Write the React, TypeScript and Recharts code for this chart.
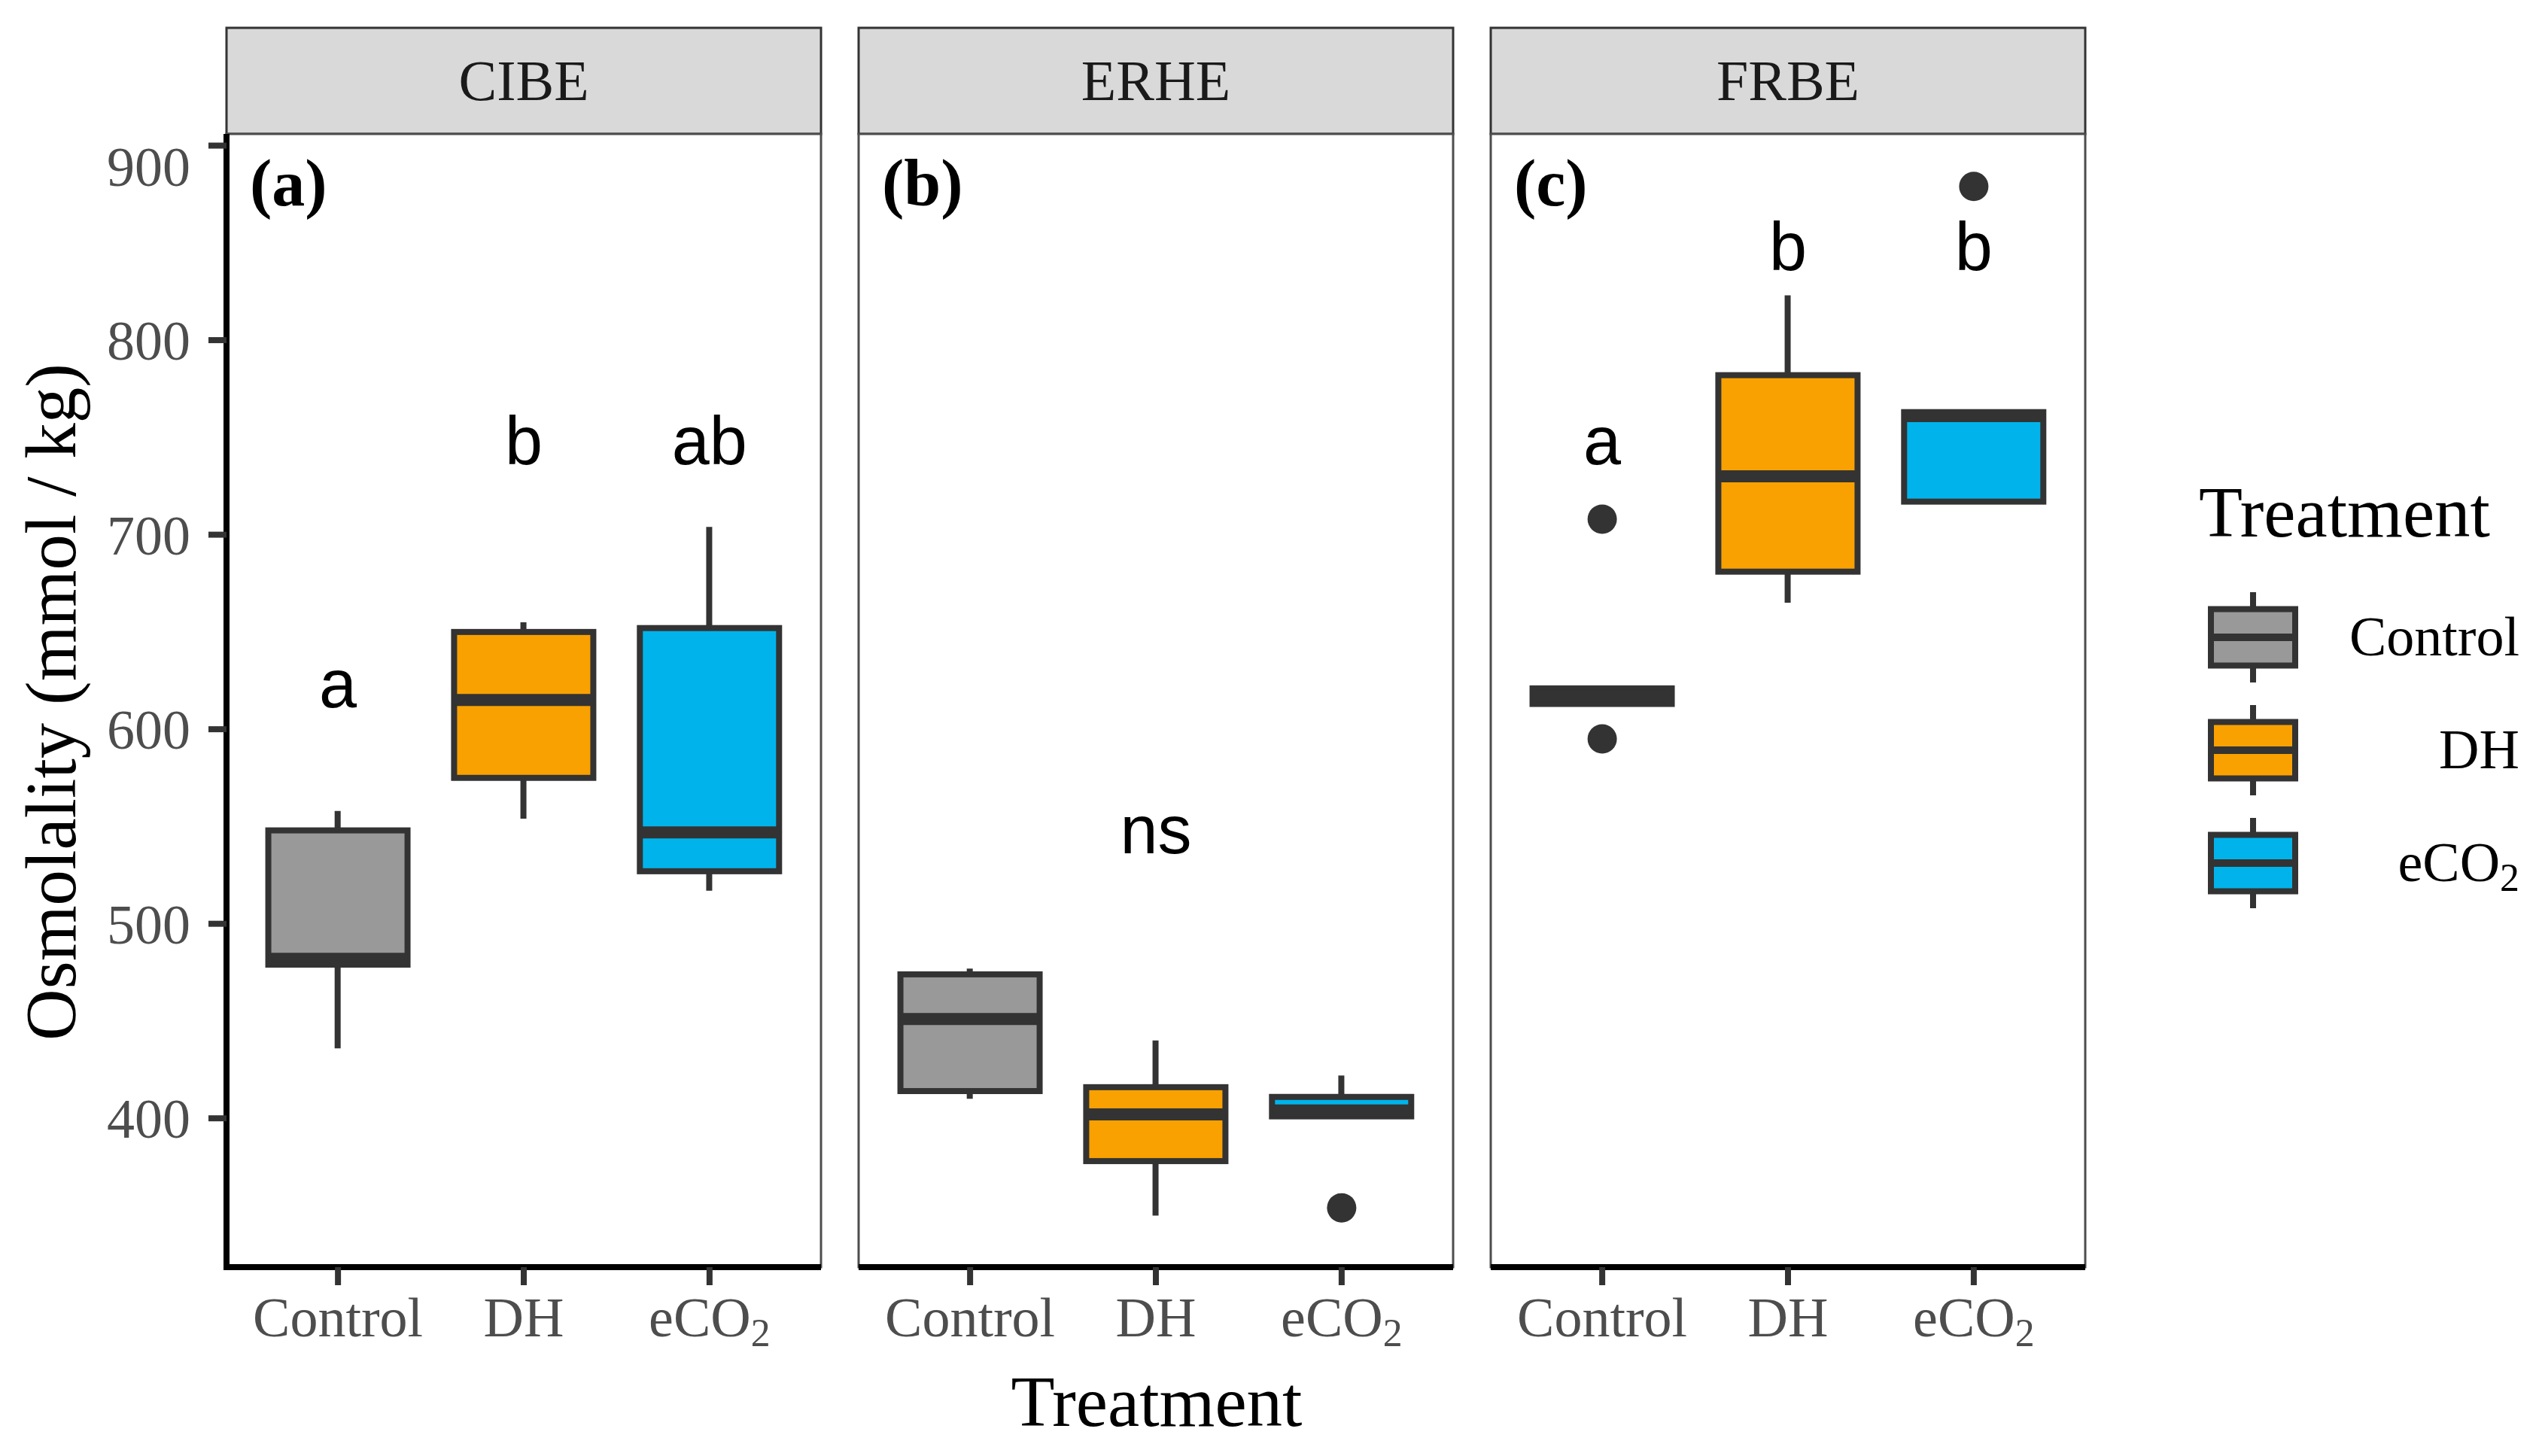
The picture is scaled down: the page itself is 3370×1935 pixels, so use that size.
import React from 'react';
import { ComposedChart, Bar, Scatter, XAxis, YAxis } from 'recharts';

// --- data ---
const TREATMENTS = ['Control', 'DH', 'eCO2'];
const FILLS: Record<string, string> = { Control: '#999999', DH: '#F9A100', eCO2: '#00B4EB' };
const SITES = ['CIBE', 'ERHE', 'FRBE'];
const TAGS = ['(a)', '(b)', '(c)'];
const Y_TICKS = [400, 500, 600, 700, 800, 900];
const Y_DOMAIN = [323.5, 906];

const cibeBoxes = [
  { treatment: 'Control', lo: 436, q1: 479, med: 482, q3: 548, hi: 558 },
  { treatment: 'DH', lo: 554, q1: 575, med: 615, q3: 650, hi: 655 },
  { treatment: 'eCO2', lo: 517, q1: 527, med: 547, q3: 652, hi: 704 },
];
const erheBoxes = [
  { treatment: 'Control', lo: 410, q1: 414, med: 451, q3: 474, hi: 477 },
  { treatment: 'DH', lo: 350, q1: 378, med: 402, q3: 416, hi: 440 },
  { treatment: 'eCO2', lo: 400, q1: 401, med: 404, q3: 411, hi: 422 },
];
const frbeBoxes = [
  { treatment: 'Control', lo: 613, q1: 613, med: 617, q3: 621, hi: 621 },
  { treatment: 'DH', lo: 665, q1: 681, med: 730, q3: 782, hi: 823 },
  { treatment: 'eCO2', lo: 717, q1: 717, med: 761, q3: 763, hi: 763 },
];

const cibeOutliers: { treatment: string; value: number }[] = [];
const erheOutliers = [{ treatment: 'eCO2', value: 354 }];
const frbeOutliers = [
  { treatment: 'Control', value: 708 },
  { treatment: 'Control', value: 595 },
  { treatment: 'eCO2', value: 879 },
];

const cibeLetters = [
  { treatment: 'Control', y: 625, label: 'a' },
  { treatment: 'DH', y: 750, label: 'b' },
  { treatment: 'eCO2', y: 750, label: 'ab' },
];
const erheLetters = [{ treatment: 'DH', y: 550, label: 'ns' }];
const frbeLetters = [
  { treatment: 'Control', y: 750, label: 'a' },
  { treatment: 'DH', y: 850, label: 'b' },
  { treatment: 'eCO2', y: 850, label: 'b' },
];

// --- layout ---
const PANEL_LEFT = [301, 1141, 1981];
const PANEL_W = 790;
const PANEL_TOP = 178;
const PANEL_H = 1506;
const STRIP_TOP = 37;
const Y_AXIS_W = 160;
const X_AXIS_H = 120;
const BAND = PANEL_W / 3.2;
const BOX_W = Math.floor(BAND * 0.75);
const SERIF = '"Liberation Serif", "Times New Roman", serif';
const SANS = '"Liberation Sans", Arial, sans-serif';
const INK = '#333333';

const pos = (t: string) => TREATMENTS.indexOf(t) + 1;

const BoxShape = (props: any) => {
  const { x, y, width, height, payload } = props;
  const top = Math.min(y, y + height);
  return (
    <rect x={x} y={top} width={width} height={Math.abs(height)}
      fill={FILLS[payload.treatment]} stroke={INK} strokeWidth={8} />
  );
};

const MedianShape = (props: any) => {
  const { cx, cy } = props;
  return <line x1={cx - BOX_W / 2} x2={cx + BOX_W / 2} y1={cy} y2={cy} stroke={INK} strokeWidth={16} />;
};

const OutlierShape = (props: any) => <circle cx={props.cx} cy={props.cy} r={19.5} fill={INK} />;

const LetterShape = (props: any) => (
  <text x={props.cx} y={props.cy} dy="0.4em" textAnchor="middle" fontSize={90} fontFamily={SANS} fill="#000">
    {props.payload.label}
  </text>
);

const TreatmentLabel = ({ name, size }: { name: string; size: number }) =>
  name === 'eCO2' ? (
    <>eCO<tspan fontSize={size * 0.7} dy={size * 0.17}>2</tspan></>
  ) : (
    <>{name}</>
  );

const XTick = (props: any) => {
  const { x, y, payload } = props;
  const name = TREATMENTS[payload.value - 1];
  return (
    <text x={x} y={y} dy={52} textAnchor="middle" fontSize={74} fontFamily={SERIF} fill="#4d4d4d">
      <TreatmentLabel name={name} size={74} />
    </text>
  );
};

const Panel = ({ index, boxes, outliers, letters }: any) => {
  const first = index === 0;
  const left = PANEL_LEFT[index] - (first ? Y_AXIS_W : 0);
  const width = PANEL_W + (first ? Y_AXIS_W : 0);
  const rows = boxes.map((b: any) => ({ ...b, x: pos(b.treatment) }));
  const outRows = outliers.map((o: any) => ({ ...o, x: pos(o.treatment) }));
  const letterRows = letters.map((l: any) => ({ ...l, x: pos(l.treatment) }));

  return (
    <div style={{ position: 'absolute', left, top: PANEL_TOP }}>
      <ComposedChart width={width} height={PANEL_H + X_AXIS_H} data={rows}
        margin={{ top: 0, right: 0, bottom: 0, left: 0 }} barCategoryGap="12.5%">
        <XAxis xAxisId={0} dataKey="x" type="number" domain={[0.4, 3.6]} ticks={[1, 2, 3]} interval={0}
          allowDataOverflow height={X_AXIS_H} tickSize={24} tickMargin={16}
          axisLine={{ stroke: '#000', strokeWidth: 8, strokeLinecap: 'square' }}
          tickLine={{ stroke: INK, strokeWidth: 8 }} tick={<XTick />} />
        <XAxis xAxisId="w" dataKey="x" type="number" domain={[0.4, 3.6]} ticks={[1, 2, 3]} allowDataOverflow hide />
        <YAxis type="number" domain={Y_DOMAIN} ticks={Y_TICKS} allowDataOverflow hide={!first}
          width={Y_AXIS_W} tickSize={24} tickMargin={24}
          axisLine={{ stroke: '#000', strokeWidth: 8, strokeLinecap: 'square' }}
          tickLine={{ stroke: INK, strokeWidth: 8 }}
          tick={{ fontSize: 74, fontFamily: SERIF, fill: '#4d4d4d' }} />
        <Bar xAxisId="w" dataKey={(d: any) => [d.lo, d.hi]} barSize={8} fill={INK} isAnimationActive={false} />
        <Bar xAxisId={0} dataKey={(d: any) => [d.q1, d.q3]} shape={BoxShape} isAnimationActive={false} />
        <Scatter xAxisId={0} dataKey="med" shape={MedianShape} isAnimationActive={false} />
        {outRows.length > 0 && (
          <Scatter xAxisId={0} data={outRows} dataKey="value" shape={OutlierShape} isAnimationActive={false} />
        )}
        <Scatter xAxisId={0} data={letterRows} dataKey="y" shape={LetterShape} isAnimationActive={false} />
      </ComposedChart>
    </div>
  );
};

const LEGEND_Y = [847, 997, 1147];

export default function App() {
  return (
    <div style={{ position: 'absolute', left: 0, top: 0, width: 3370, height: 1935, background: '#fff' }}>
      <svg width={3370} height={1935} style={{ position: 'absolute', left: 0, top: 0 }}>
        {SITES.map((s, i) => (
          <g key={s}>
            <rect x={PANEL_LEFT[i]} y={STRIP_TOP} width={PANEL_W} height={PANEL_TOP - STRIP_TOP}
              fill="#d9d9d9" stroke={INK} strokeWidth={3} />
            <text x={PANEL_LEFT[i] + PANEL_W / 2} y={133} textAnchor="middle" fontSize={76}
              fontFamily={SERIF} fill="#1a1a1a">{s}</text>
            <rect x={PANEL_LEFT[i]} y={PANEL_TOP} width={PANEL_W} height={PANEL_H}
              fill="#fff" stroke="#4d4d4d" strokeWidth={3} />
            <text x={PANEL_LEFT[i] + 31} y={273} fontSize={88} fontWeight="bold" fontFamily={SERIF}
              fill="#000">{TAGS[i]}</text>
          </g>
        ))}
        <text x={100} y={933} transform="rotate(-90, 100, 933)" textAnchor="middle" fontSize={95}
          fontFamily={SERIF} fill="#000">Osmolality (mmol / kg)</text>
        <text x={1537} y={1895} textAnchor="middle" fontSize={95} fontFamily={SERIF} fill="#000">Treatment</text>

        {/* legend */}
        <text x={2922} y={713} fontSize={95} fontFamily={SERIF} fill="#000">Treatment</text>
        {TREATMENTS.map((t, i) => {
          const cy = LEGEND_Y[i];
          return (
            <g key={t}>
              <line x1={2994} x2={2994} y1={cy - 60} y2={cy + 60} stroke={INK} strokeWidth={8} />
              <rect x={2938} y={cy - 37.5} width={112} height={75} fill={FILLS[t]} stroke={INK} strokeWidth={8} />
              <line x1={2938} x2={3050} y1={cy} y2={cy} stroke={INK} strokeWidth={10} />
              <text x={3348} y={cy + 24} textAnchor="end" fontSize={74} fontFamily={SERIF} fill="#000">
                <TreatmentLabel name={t} size={74} />
              </text>
            </g>
          );
        })}
      </svg>
      <Panel index={0} boxes={cibeBoxes} outliers={cibeOutliers} letters={cibeLetters} />
      <Panel index={1} boxes={erheBoxes} outliers={erheOutliers} letters={erheLetters} />
      <Panel index={2} boxes={frbeBoxes} outliers={frbeOutliers} letters={frbeLetters} />
    </div>
  );
}
